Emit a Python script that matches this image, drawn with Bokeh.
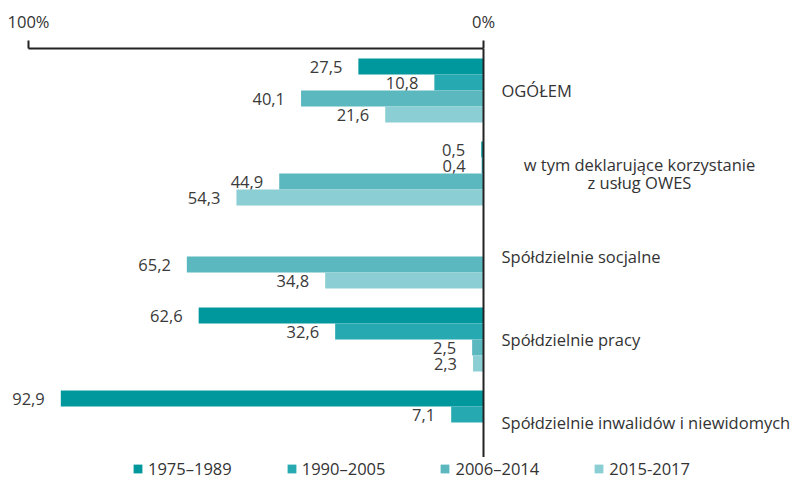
from bokeh.plotting import figure
from bokeh.models import (ColumnDataSource, Range1d, Span, FixedTicker,
                          Legend, LegendItem)
from bokeh.core.properties import value
from bokeh.embed import file_html
from bokeh.resources import INLINE

# ---- data ----
groups = ["OGÓŁEM", "w tym deklarujące korzystanie\nz usług OWES", "Spółdzielnie socjalne",
          "Spółdzielnie pracy", "Spółdzielnie inwalidów i niewidomych"]
series = ["1975–1989", "1990–2005", "2006–2014", "2015-2017"]
s1975_1989 = [27.5, 0.5, None, 62.6, 92.9]
s1990_2005 = [10.8, 0.4, None, 32.6, 7.1]
s2006_2014 = [40.1, 44.9, 65.2, 2.5, None]
s2015_2017 = [21.6, 54.3, 34.8, 2.3, None]
values_by_series = [s1975_1989, s1990_2005, s2006_2014, s2015_2017]
colors = ["#00979d", "#26a9b0", "#5bb8bf", "#8bcfd4"]
tick_labels = {0: "0%", 100: "100%"}

FONT = value("Open Sans")
FS = "16.5px"
TXT = "#333333"

# ---- layout ----
FW, FH = 801, 432          # frame size in px
TOP = 48
px_per_unit = 4.55         # x px per percent
x_start = 100 + 28 / px_per_unit
x_end = 0 - (FW - 483) / px_per_unit
slot_px = 16.0             # one bar slot
pitch = 83.0 / slot_px     # group pitch in slot units
top_pad = 10.0 / slot_px
y_top = -top_pad
y_bottom = FH / slot_px - top_pad

p = figure(frame_width=FW, frame_height=FH, output_backend="svg", toolbar_location=None,
           x_range=Range1d(x_start, x_end), y_range=Range1d(y_bottom, y_top),
           x_axis_location="above", y_axis_location=None,
           min_border_left=0, min_border_right=0, min_border_top=TOP,
           min_border_bottom=0)
p.outline_line_color = None
p.xgrid.visible = False
p.ygrid.visible = False

ax = p.xaxis[0]
ax.ticker = FixedTicker(ticks=[0, 100])
ax.major_label_overrides = tick_labels
ax.bounds = (0, 100)
ax.axis_line_color = "#222222"
ax.axis_line_width = 2
ax.major_tick_line_color = "#222222"
ax.major_tick_line_width = 2
ax.major_tick_out = 8
ax.major_tick_in = 0
ax.minor_tick_line_color = None
ax.major_label_standoff = 8
ax.major_label_text_font = "Open Sans"
ax.major_label_text_font_size = FS
ax.major_label_text_color = TXT

p.add_layout(Span(location=0, dimension="height", line_color="#222222", line_width=2))

legend_items = []
for j, (s, vals, c) in enumerate(zip(series, values_by_series, colors)):
    ys, xs, labels = [], [], []
    for k, v in enumerate(vals):
        if v is None:
            continue
        ys.append(k * pitch + j + 0.5)
        xs.append(v)
        labels.append(f"{v:.1f}".replace(".", ","))
    src = ColumnDataSource(dict(y=ys, v=xs, lab=labels))
    r = p.hbar(y="y", left=0, right="v", height=1.0, source=src,
               fill_color=c, line_color=None)
    p.text(x="v", y="y", text="lab", source=src, text_align="right",
           text_baseline="middle", x_offset=-16, text_font=FONT,
           text_font_size=FS, text_color="#3a3a3a")
    legend_items.append(LegendItem(label=s, renderers=[r]))

gy = [k * pitch + 2.0 for k in range(len(groups))]
single = [(g, y) for g, y in zip(groups, gy) if "\n" not in g]
multi = [(g, y) for g, y in zip(groups, gy) if "\n" in g]
p.text(x=0, y=[y for _, y in single], text=[g for g, _ in single],
       text_align="left", text_baseline="middle", x_offset=18,
       text_font=FONT, text_font_size=FS, text_color=TXT)
p.text(x=0, y=[y for _, y in multi], text=[g for g, _ in multi],
       text_align="center", text_baseline="middle", x_offset=156,
       text_font=FONT, text_font_size=FS, text_color=TXT, text_line_height=0.78)

legend = Legend(items=legend_items, orientation="horizontal", location=(132, 0),
                padding=0, margin=0, spacing=54, glyph_width=11, glyph_height=11,
                label_standoff=5, label_text_font="Open Sans", label_text_font_size=FS,
                label_text_color=TXT, border_line_alpha=0, background_fill_color="white",
                background_fill_alpha=1.0, label_height=16)
p.add_layout(legend, "center")

open("out.html", "w").write(file_html(p, INLINE))
